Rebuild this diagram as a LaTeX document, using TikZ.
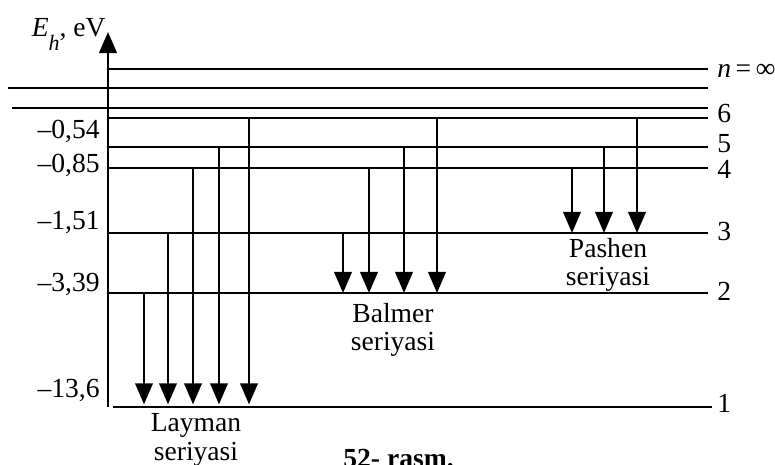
\documentclass[tikz,border=0pt]{standalone}
\usepackage{fontspec}
\setmainfont{Liberation Serif}
\usetikzlibrary{positioning,arrows.meta}

\tikzset{
  level/.style={line width=1.4pt},
  jump/.style={line width=1.2pt, -{Triangle[length=12pt,width=10pt]}},
  txt/.style={inner sep=0pt, font=\fontsize{15.7}{16}\selectfont},
  energy/.style={txt, anchor=base east},
  quantum/.style={txt, anchor=base west},
  series/.style={txt, align=center},
}

\begin{document}
\begin{tikzpicture}[x=0.02cm,y=-0.02cm]
  \useasboundingbox (0,0) rectangle (775,465);
  % energy axis
  \coordinate (bottom) at (108,407);
  \coordinate (top) at (108,32);
  \draw[jump, line width=1.4pt] (bottom) -- (top);
  \node[txt, anchor=base east] (axlabel) at (106,37) {\textit{E}\raisebox{-0.5em}{\fontsize{12.5}{12.5}\selectfont\textit{h}}, eV};

  % levels
  \coordinate (einf) at (108,69);
  \coordinate (e6) at (108,118);
  \coordinate (e5) at (108,147);
  \coordinate (e4) at (108,168);
  \coordinate (e3) at (108,233);
  \coordinate (e2) at (108,293);
  \coordinate (e1) at (113,407);
  \coordinate (ga) at (8,88);
  \coordinate (gb) at (12,108);
  \foreach \lv in {einf,e6,e5,e4,e3,e2,ga,gb}
    \draw[level] (\lv) -- (708,0 |- \lv);
  \draw[level] (e1) -- (712,0 |- e1);

  % level numbers
  \node[quantum] (ninf) at (717,78) {\textit{n}\,=\,∞};
  \node[quantum] (n6) at (717,123) {6};
  \node[quantum] (n5) at (717,153) {5};
  \node[quantum] (n4) at (717,179) {4};
  \node[quantum] (n3) at (717,241) {3};
  \node[quantum] (n2) at (717,301) {2};
  \node[quantum] (n1) at (717,413) {1};

  % energies
  \node[energy] (v5) at (100,139) {–0,54};
  \node[energy] (v4) at (100,173) {–0,85};
  \node[energy] (v3) at (100,230) {–1,51};
  \node[energy] (v2) at (100,292) {–3,39};
  \node[energy] (v1) at (100,398) {–13,6};

  % Layman
  \foreach \x/\from in {144/e2,168/e3,193/e4,219/e5,249/e6}
    \draw[jump, shorten >=1.5pt] (\x,0 |- \from) -- (\x,0 |- e1);
  % Balmer
  \foreach \x/\from in {343/e3,369/e4,404/e5,437/e6}
    \draw[jump] (\x,0 |- \from) -- (\x,0 |- e2);
  % Pashen
  \foreach \x/\from in {572/e4,604/e5,637/e6}
    \draw[jump] (\x,0 |- \from) -- (\x,0 |- e3);

  \node[series] (layman) at (196,440) {Layman\\seriyasi};
  \node[series] (balmer) at (393,330) {Balmer\\seriyasi};
  \node[series] (pashen) at (608,265) {Pashen\\seriyasi};

  \node[txt, anchor=base west, font=\fontsize{15.7}{16}\selectfont\bfseries] (caption) at (343,468) {52- rasm.};
\end{tikzpicture}
\end{document}
